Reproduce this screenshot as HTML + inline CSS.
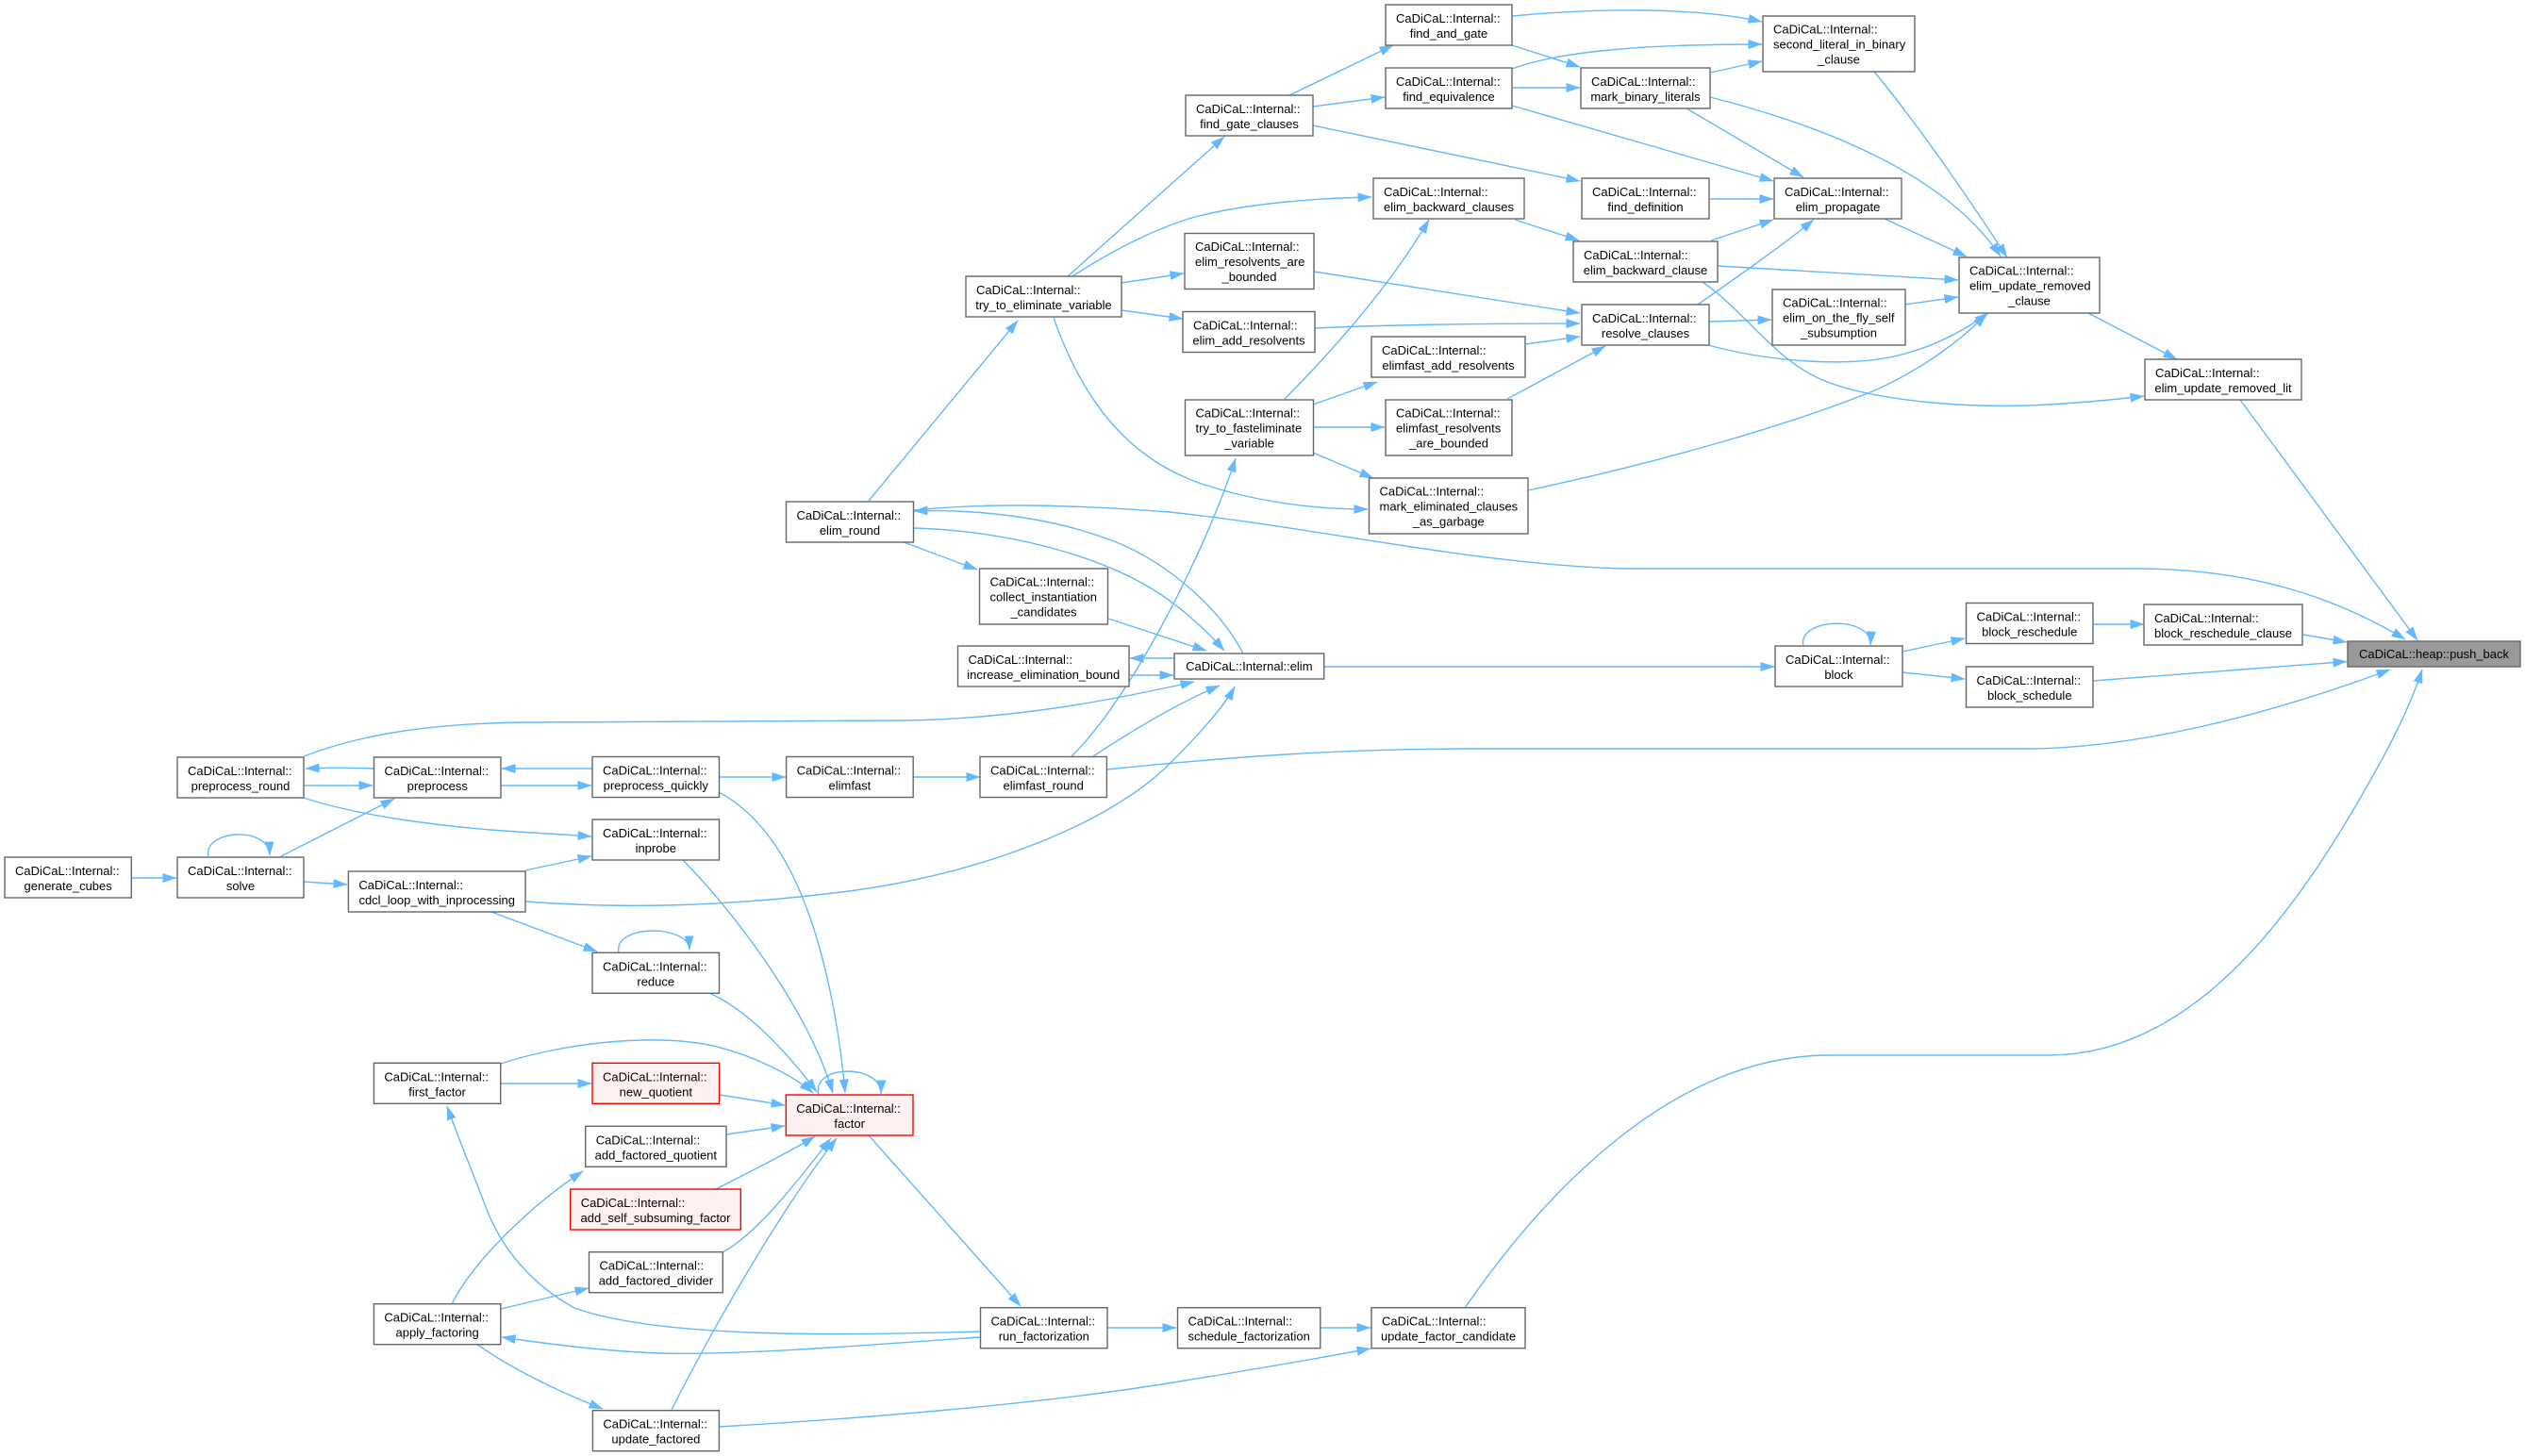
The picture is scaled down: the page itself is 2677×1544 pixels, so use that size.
<!DOCTYPE html>
<html>
<head>
<meta charset="utf-8">
<style>
  html,body{margin:0;padding:0;background:#fff;}
  svg{display:block;}
  text{font-family:"Liberation Sans",Arial,sans-serif;font-size:13px;fill:#000;}
  .e{fill:none;stroke:#63b8ff;stroke-width:1.4;marker-end:url(#a);}
  .n{fill:#fff;stroke:#666;stroke-width:1.4;}
  .r{fill:#fff0f0;stroke:#ff0000;stroke-width:1.4;}
  .g{fill:#999;stroke:#666;stroke-width:1.4;}
  .m{text-anchor:middle;}
</style>
</head>
<body>
<svg width="2677" height="1544" viewBox="0 0 2677 1544" xmlns="http://www.w3.org/2000/svg">
<defs>
  <marker id="a" markerWidth="15" markerHeight="11" refX="14.5" refY="5.5" orient="auto" markerUnits="userSpaceOnUse">
    <path d="M0,0.5 L15,5.5 L0,10.5 z" fill="#63b8ff"/>
  </marker>
</defs>
<rect width="2677" height="1544" fill="#fff"/>

<!-- EDGES -->
<g>
<path class="e" d="M2442,673 L2488,681"/>
<path class="e" d="M2219,722 L2488,701.5"/>
<path class="e" d="M2375,424 L2563,679"/>
<path class="e" d="M969,541 C1040,534 1120,534 1240,543 C1400,560 1560,598 1720,603 L2264,603 C2380,603 2470,630 2550,678"/>
<path class="e" d="M1173,816 C1300,803 1420,794 1560,794 L2148,794 C2260,794 2400,760 2534,710"/>
<path class="e" d="M1553,1387 C1620,1290 1760,1119 1940,1119 L2172,1119 C2330,1119 2440,960 2520,815 C2545,770 2560,735 2568,710"/>
<path class="e" d="M2219,662 L2273,662"/>
<path class="e" d="M2017,691 L2083,677"/>
<path class="e" d="M2017,713 L2083,720"/>
<path class="e" d="M1912,685 C1905,655 1985,652 1983,684"/>
<path class="e" d="M1404,707 L1881,707"/>
<path class="e" d="M2214,332 L2308,381"/>
<path class="e" d="M1987,76 C2040,140 2100,230 2128,273"/>
<path class="e" d="M1813,103 C1920,130 2060,180 2121,272"/>
<path class="e" d="M1998,232 L2085,272"/>
<path class="e" d="M1821,282 L2076,297"/>
<path class="e" d="M2019,323 L2076,315"/>
<path class="e" d="M1811,366 C1870,382 1960,392 2020,375 C2060,364 2090,345 2108,332"/>
<path class="e" d="M1620,520 C1760,490 1900,450 1990,413 C2040,390 2080,360 2106,333"/>
<path class="e" d="M1805,299 C1850,330 1880,380 1930,402 C1990,428 2100,432 2150,430 C2200,428 2240,424 2273,420"/>
<path class="e" d="M1603,17 C1700,8 1800,8 1868,23"/>
<path class="e" d="M1603,73 C1660,52 1760,47 1868,47"/>
<path class="e" d="M1813,77 L1868,65"/>
<path class="e" d="M1603,48 L1675,71"/>
<path class="e" d="M1603,93 L1675,93"/>
<path class="e" d="M1603,112 L1880,192"/>
<path class="e" d="M1788,115 L1912,188"/>
<path class="e" d="M1812,211 L1880,211"/>
<path class="e" d="M1814,255 L1880,233"/>
<path class="e" d="M1800,323 C1840,295 1890,260 1923,233"/>
<path class="e" d="M1367,101 L1477,48"/>
<path class="e" d="M1392,113 L1468,103"/>
<path class="e" d="M1392,133 L1675,192"/>
<path class="e" d="M1606,233 L1674,255"/>
<path class="e" d="M1393,288 L1675,332"/>
<path class="e" d="M1394,348 C1480,344 1580,343 1675,343"/>
<path class="e" d="M1617,365 L1675,357"/>
<path class="e" d="M1598,423 L1702,367"/>
<path class="e" d="M1812,341 L1878,339"/>
<path class="e" d="M1132,293 L1298,145"/>
<path class="e" d="M1137,293 C1180,265 1220,245 1260,232 C1320,215 1400,210 1454,209"/>
<path class="e" d="M1189,300 L1255,290"/>
<path class="e" d="M1189,329 L1254,338"/>
<path class="e" d="M1117,337 C1150,430 1200,490 1280,515 C1340,534 1400,540 1450,540"/>
<path class="e" d="M1362,423 C1400,385 1470,310 1515,233"/>
<path class="e" d="M1392,429 L1460,405"/>
<path class="e" d="M1392,453 L1468,453"/>
<path class="e" d="M1392,480 L1456,507"/>
<path class="e" d="M921,531 L1079,340"/>
<path class="e" d="M958,575 L1036,604"/>
<path class="e" d="M969,560 C1070,563 1170,590 1230,630 C1260,650 1285,675 1298,690"/>
<path class="e" d="M1318,693 C1290,640 1230,590 1170,570 C1100,545 1020,540 969,542"/>
<path class="e" d="M1175,656 L1279,690"/>
<path class="e" d="M1245,698 L1198,698"/>
<path class="e" d="M1197,716 L1244,716"/>
<path class="e" d="M322,802 C380,780 450,767 560,766 L960,764 C1080,762 1180,742 1266,723"/>
<path class="e" d="M1136,802 C1200,740 1280,580 1310,486"/>
<path class="e" d="M1159,802 C1200,775 1250,745 1293,727"/>
<path class="e" d="M557,956 C650,963 760,963 900,945 C1050,925 1180,870 1240,810 C1280,770 1300,745 1309,728"/>
<path class="e" d="M396,815 C370,814 350,814 324,815"/>
<path class="e" d="M322,833 L395,833"/>
<path class="e" d="M628,815 L532,815"/>
<path class="e" d="M531,833 L627,833"/>
<path class="e" d="M322,846 C380,865 460,875 520,880 C560,883 600,885 627,887"/>
<path class="e" d="M298,908 L418,847"/>
<path class="e" d="M221,908 C215,880 285,875 286,907"/>
<path class="e" d="M139,931 L187,931"/>
<path class="e" d="M322,935 L368,938"/>
<path class="e" d="M557,923 L627,908"/>
<path class="e" d="M521,967 L633,1009"/>
<path class="e" d="M762,824 L833,824"/>
<path class="e" d="M968,824 L1039,824"/>
<path class="e" d="M762,840 C800,860 830,900 850,950 C875,1010 890,1090 896,1159"/>
<path class="e" d="M724,912 C790,980 860,1080 883,1159"/>
<path class="e" d="M752,1053 C790,1070 830,1110 866,1158"/>
<path class="e" d="M656,1010 C650,980 730,980 731,1007"/>
<path class="e" d="M531,1128 C600,1105 700,1095 760,1110 C800,1120 840,1140 862,1159"/>
<path class="e" d="M531,1149 L627,1149"/>
<path class="e" d="M763,1161 L832,1172"/>
<path class="e" d="M770,1203 L832,1194"/>
<path class="e" d="M759,1261 C800,1240 840,1220 864,1205"/>
<path class="e" d="M766,1328 C800,1310 840,1260 881,1207"/>
<path class="e" d="M712,1495 C760,1400 830,1280 887,1207"/>
<path class="e" d="M868,1161 C860,1128 935,1128 934,1160"/>
<path class="e" d="M921,1204 L1082,1385"/>
<path class="e" d="M1039,1412 C900,1416 700,1420 609,1387 C560,1360 530,1320 515,1280 C500,1240 485,1205 474,1173"/>
<path class="e" d="M1039,1418 C900,1428 780,1437 700,1435 C640,1433 580,1425 532,1418"/>
<path class="e" d="M479,1383 C500,1340 560,1280 618,1242"/>
<path class="e" d="M531,1388 L624,1366"/>
<path class="e" d="M505,1425 C540,1450 590,1475 639,1494"/>
<path class="e" d="M762,1513 C900,1505 1100,1490 1250,1465 C1330,1452 1400,1440 1453,1430"/>
<path class="e" d="M1174,1408 L1247,1408"/>
<path class="e" d="M1400,1408 L1453,1408"/>
</g>

<!-- NODES -->
<g>
<rect class="g" x="2489" y="680" width="183" height="27"/>
<text class="m" x="2580.5" y="698">CaDiCaL::heap::push_back</text>

<rect class="n" x="2273" y="641" width="168" height="43"/>
<text x="2284" y="660">CaDiCaL::Internal::</text><text class="m" x="2357" y="676">block_reschedule_clause</text>

<rect class="n" x="2274" y="381" width="166" height="43"/>
<text x="2285" y="400">CaDiCaL::Internal::</text><text class="m" x="2357" y="416">elim_update_removed_lit</text>

<rect class="n" x="2077" y="273" width="149" height="59"/>
<text x="2088" y="291.7">CaDiCaL::Internal::</text><text x="2088" y="307.7">elim_update_removed</text><text class="m" x="2151.5" y="323.7">_clause</text>

<rect class="n" x="1869" y="17" width="161" height="59"/>
<text x="1880" y="35.7">CaDiCaL::Internal::</text><text x="1880" y="51.7">second_literal_in_binary</text><text class="m" x="1949.5" y="67.7">_clause</text>

<rect class="n" x="1469" y="5" width="134" height="43"/>
<text x="1480" y="24">CaDiCaL::Internal::</text><text class="m" x="1536" y="40">find_and_gate</text>

<rect class="n" x="1469" y="72" width="134" height="43"/>
<text x="1480" y="91">CaDiCaL::Internal::</text><text class="m" x="1536" y="107">find_equivalence</text>

<rect class="n" x="1676" y="72" width="137" height="43"/>
<text x="1687" y="91">CaDiCaL::Internal::</text><text class="m" x="1744.5" y="107">mark_binary_literals</text>

<rect class="n" x="1257" y="101" width="135" height="43"/>
<text x="1268" y="120">CaDiCaL::Internal::</text><text class="m" x="1324.5" y="136">find_gate_clauses</text>

<rect class="n" x="1677" y="189" width="135" height="43"/>
<text x="1688" y="208">CaDiCaL::Internal::</text><text class="m" x="1744.5" y="224">find_definition</text>

<rect class="n" x="1881" y="189" width="135" height="43"/>
<text x="1892" y="208">CaDiCaL::Internal::</text><text class="m" x="1948.5" y="224">elim_propagate</text>

<rect class="n" x="1456" y="189" width="160" height="43"/>
<text x="1467" y="208">CaDiCaL::Internal::</text><text class="m" x="1536" y="224">elim_backward_clauses</text>

<rect class="n" x="1668" y="256" width="153" height="43"/>
<text x="1679" y="275">CaDiCaL::Internal::</text><text class="m" x="1744.5" y="291">elim_backward_clause</text>

<rect class="n" x="1256" y="247.5" width="137" height="59"/>
<text x="1267" y="266.2">CaDiCaL::Internal::</text><text x="1267" y="282.2">elim_resolvents_are</text><text class="m" x="1324.5" y="298.2">_bounded</text>

<rect class="n" x="1024" y="293" width="165" height="43"/>
<text x="1035" y="312">CaDiCaL::Internal::</text><text class="m" x="1106.5" y="328">try_to_eliminate_variable</text>

<rect class="n" x="1254" y="330.5" width="140" height="43"/>
<text x="1265" y="349.5">CaDiCaL::Internal::</text><text class="m" x="1324" y="365.5">elim_add_resolvents</text>

<rect class="n" x="1677" y="323" width="135" height="43"/>
<text x="1688" y="342">CaDiCaL::Internal::</text><text class="m" x="1744.5" y="358">resolve_clauses</text>

<rect class="n" x="1879" y="307" width="141" height="59"/>
<text x="1890" y="325.7">CaDiCaL::Internal::</text><text x="1890" y="341.7">elim_on_the_fly_self</text><text class="m" x="1949.5" y="357.7">_subsumption</text>

<rect class="n" x="1454" y="357" width="163" height="43"/>
<text x="1465" y="376">CaDiCaL::Internal::</text><text class="m" x="1535.5" y="392">elimfast_add_resolvents</text>

<rect class="n" x="1256.5" y="424" width="136" height="59"/>
<text x="1267.5" y="442.7">CaDiCaL::Internal::</text><text x="1267.5" y="458.7">try_to_fasteliminate</text><text class="m" x="1324.5" y="474.7">_variable</text>

<rect class="n" x="1469" y="424" width="134" height="59"/>
<text x="1480" y="442.7">CaDiCaL::Internal::</text><text x="1480" y="458.7">elimfast_resolvents</text><text class="m" x="1536" y="474.7">_are_bounded</text>

<rect class="n" x="1451.5" y="507" width="168.5" height="59"/>
<text x="1462.5" y="525.7">CaDiCaL::Internal::</text><text x="1462.5" y="541.7">mark_eliminated_clauses</text><text class="m" x="1535.75" y="557.7">_as_garbage</text>

<rect class="n" x="833.5" y="532" width="135" height="43"/>
<text x="844.5" y="551">CaDiCaL::Internal::</text><text class="m" x="901" y="567">elim_round</text>

<rect class="n" x="1038.5" y="603" width="136" height="59"/>
<text x="1049.5" y="621.7">CaDiCaL::Internal::</text><text x="1049.5" y="637.7">collect_instantiation</text><text class="m" x="1106.5" y="653.7">_candidates</text>

<rect class="n" x="2084.5" y="639.5" width="134.5" height="43"/>
<text x="2095.5" y="658.5">CaDiCaL::Internal::</text><text class="m" x="2151.75" y="674.5">block_reschedule</text>

<rect class="n" x="1882" y="685" width="135" height="43"/>
<text x="1893" y="704">CaDiCaL::Internal::</text><text class="m" x="1949.5" y="720">block</text>

<rect class="n" x="2084.5" y="707" width="134.5" height="43"/>
<text x="2095.5" y="726">CaDiCaL::Internal::</text><text class="m" x="2151.75" y="742">block_schedule</text>

<rect class="n" x="1015.5" y="685" width="181.5" height="43"/>
<text x="1026.5" y="704">CaDiCaL::Internal::</text><text class="m" x="1106.25" y="720">increase_elimination_bound</text>

<rect class="n" x="1245" y="693" width="158.7" height="27"/>
<text class="m" x="1324.35" y="711">CaDiCaL::Internal::elim</text>

<rect class="n" x="188" y="803" width="134" height="43"/>
<text x="199" y="822">CaDiCaL::Internal::</text><text class="m" x="255" y="838">preprocess_round</text>

<rect class="n" x="396.5" y="803" width="134.5" height="43"/>
<text x="407.5" y="822">CaDiCaL::Internal::</text><text class="m" x="463.75" y="838">preprocess</text>

<rect class="n" x="628" y="802.5" width="134.5" height="43"/>
<text x="639" y="821.5">CaDiCaL::Internal::</text><text class="m" x="695.25" y="837.5">preprocess_quickly</text>

<rect class="n" x="833.6" y="802.5" width="134.6" height="43"/>
<text x="844.6" y="821.5">CaDiCaL::Internal::</text><text class="m" x="900.9" y="837.5">elimfast</text>

<rect class="n" x="1039" y="802.5" width="134.4" height="43"/>
<text x="1050" y="821.5">CaDiCaL::Internal::</text><text class="m" x="1106.2" y="837.5">elimfast_round</text>

<rect class="n" x="628" y="869" width="134.5" height="43"/>
<text x="639" y="888">CaDiCaL::Internal::</text><text class="m" x="695.25" y="904">inprobe</text>

<rect class="n" x="5" y="909" width="134.3" height="43"/>
<text x="16" y="928">CaDiCaL::Internal::</text><text class="m" x="72.15" y="944">generate_cubes</text>

<rect class="n" x="188" y="909" width="134" height="43"/>
<text x="199" y="928">CaDiCaL::Internal::</text><text class="m" x="255" y="944">solve</text>

<rect class="n" x="369.4" y="924" width="187.6" height="43"/>
<text x="380.4" y="943">CaDiCaL::Internal::</text><text class="m" x="463.2" y="959">cdcl_loop_with_inprocessing</text>

<rect class="n" x="628" y="1010.3" width="134.5" height="43"/>
<text x="639" y="1029.3">CaDiCaL::Internal::</text><text class="m" x="695.25" y="1045.3">reduce</text>

<rect class="n" x="396.4" y="1127.3" width="134.3" height="43"/>
<text x="407.4" y="1146.3">CaDiCaL::Internal::</text><text class="m" x="463.55" y="1162.3">first_factor</text>

<rect class="r" x="628" y="1127.3" width="134.6" height="43"/>
<text x="639" y="1146.3">CaDiCaL::Internal::</text><text class="m" x="695.3" y="1162.3">new_quotient</text>

<rect class="r" x="833.3" y="1161" width="134.7" height="43"/>
<text x="844.3" y="1180">CaDiCaL::Internal::</text><text class="m" x="900.65" y="1196">factor</text>

<rect class="n" x="620.7" y="1194.3" width="149.3" height="43"/>
<text x="631.7" y="1213.3">CaDiCaL::Internal::</text><text class="m" x="695.35" y="1229.3">add_factored_quotient</text>

<rect class="r" x="604.7" y="1261" width="180.6" height="43"/>
<text x="615.7" y="1280">CaDiCaL::Internal::</text><text class="m" x="695" y="1296">add_self_subsuming_factor</text>

<rect class="n" x="624.5" y="1327.7" width="141.8" height="43"/>
<text x="635.5" y="1346.7">CaDiCaL::Internal::</text><text class="m" x="695.4" y="1362.7">add_factored_divider</text>

<rect class="n" x="396.4" y="1382.7" width="134.4" height="43"/>
<text x="407.4" y="1401.7">CaDiCaL::Internal::</text><text class="m" x="463.6" y="1417.7">apply_factoring</text>

<rect class="n" x="1039.5" y="1386.7" width="134.5" height="43"/>
<text x="1050.5" y="1405.7">CaDiCaL::Internal::</text><text class="m" x="1106.75" y="1421.7">run_factorization</text>

<rect class="n" x="1248.5" y="1386.7" width="151.3" height="43"/>
<text x="1259.5" y="1405.7">CaDiCaL::Internal::</text><text class="m" x="1324.15" y="1421.7">schedule_factorization</text>

<rect class="n" x="1454" y="1386.7" width="163" height="43"/>
<text x="1465" y="1405.7">CaDiCaL::Internal::</text><text class="m" x="1535.5" y="1421.7">update_factor_candidate</text>

<rect class="n" x="628.4" y="1495.7" width="134" height="43"/>
<text x="639.4" y="1514.7">CaDiCaL::Internal::</text><text class="m" x="695.4" y="1530.7">update_factored</text>
</g>
</svg>
</body>
</html>
